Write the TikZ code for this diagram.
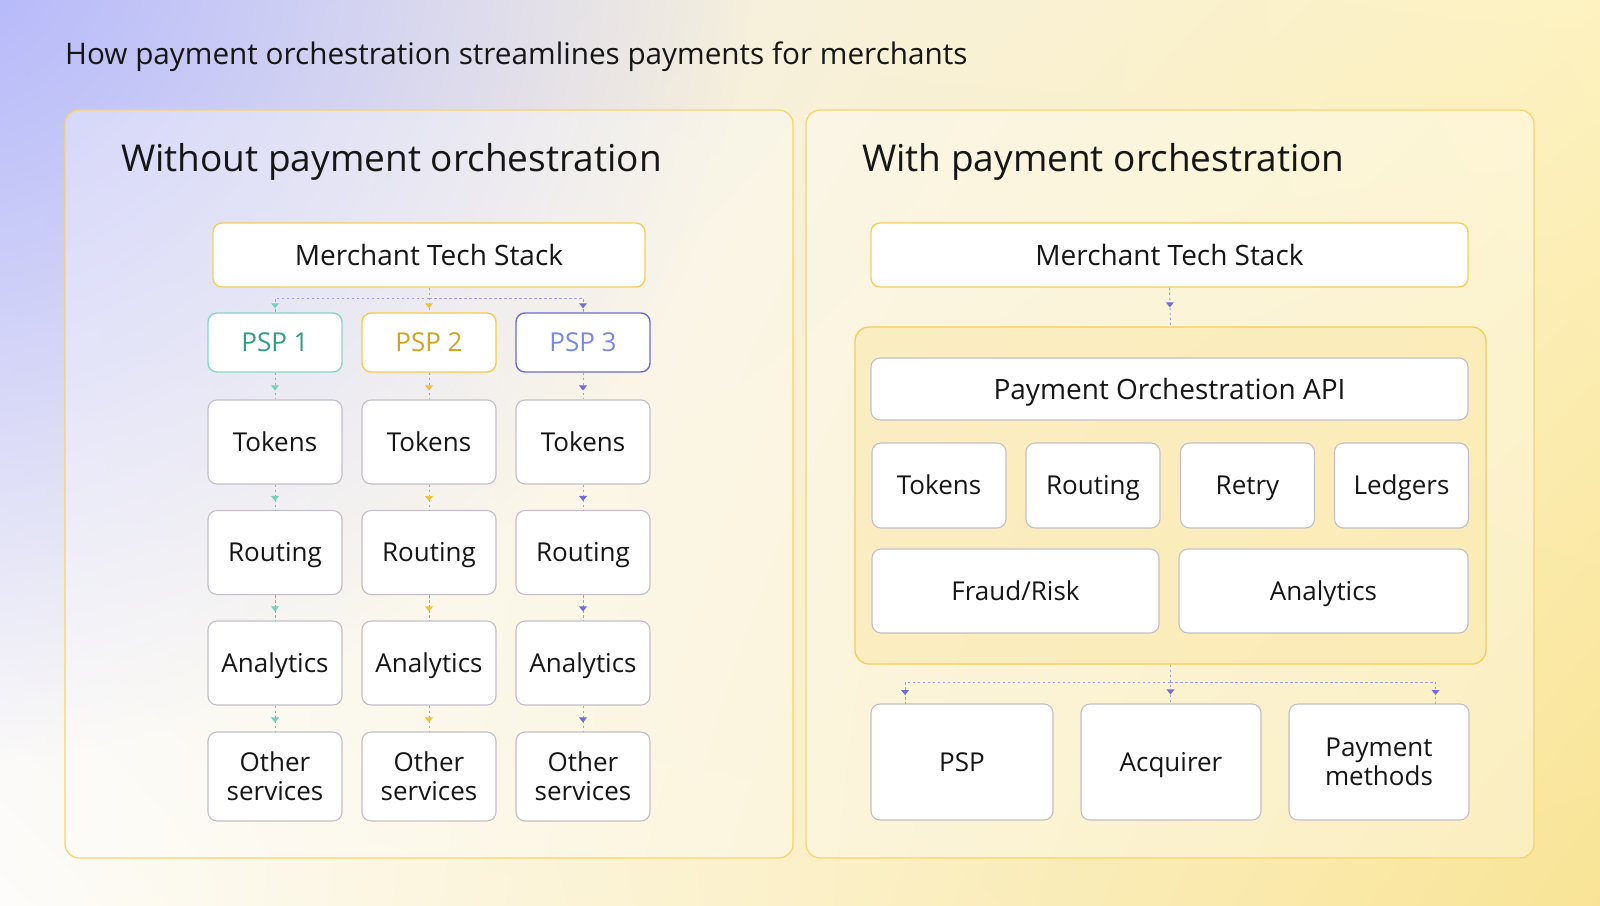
\documentclass[tikz,border=0pt]{standalone}
\usepackage{fontspec}
\setmainfont{Open Sans}
\usetikzlibrary{positioning, fadings, shadings, decorations.markings, calc}

\definecolor{ink}{HTML}{161616}
\definecolor{lavbg}{HTML}{B1B5FA}
\definecolor{bgTL}{HTML}{F1EFF5}
\definecolor{bgBL}{HTML}{FDFCFA}
\definecolor{bgTR}{HTML}{FDF2C0}
\definecolor{bgBR}{HTML}{F9E496}
\definecolor{boxline}{HTML}{C4BFC7}
\definecolor{mtsline}{HTML}{F5CF5A}
\definecolor{panelline}{HTML}{F6D46E}
\definecolor{hubline}{HTML}{F6CD55}
\definecolor{hubfill}{HTML}{FBE7A6}
\definecolor{dashc}{HTML}{A29EE6}
\definecolor{tealtip}{HTML}{6FD2B9}
\definecolor{goldtip}{HTML}{F5C22D}
\definecolor{purptip}{HTML}{6F6BE0}
\definecolor{pspAtext}{HTML}{2F9F86}
\definecolor{pspAline}{HTML}{86D8C5}
\definecolor{pspBtext}{HTML}{D5A31C}
\definecolor{pspBline}{HTML}{F7CB4A}
\definecolor{pspCtext}{HTML}{7D87EA}
\definecolor{pspCline}{HTML}{6C6AD6}

\newcommand{\lblfont}{\fontsize{26}{29}\selectfont}
\newcommand{\mtsfont}{\fontsize{28}{32}\selectfont}
\newcommand{\pnlfont}{\fontsize{37}{42}\selectfont}
\newcommand{\ttlfont}{\fontsize{29.7}{34}\selectfont}

\tikzfading[name=lavfade, inner color=transparent!0, outer color=transparent!100]

\tikzset{
  panel/.style={draw=panelline, line width=1.3pt, rounded corners=14pt, fill=white, fill opacity=0.35},
  hub/.style={draw=hubline, line width=1.3pt, rounded corners=14pt, fill=hubfill, fill opacity=0.5, minimum width=631pt, minimum height=337pt, inner sep=0pt},
  box/.style={draw=boxline, fill=white, line width=1.1pt, rounded corners=9pt, minimum width=134pt, minimum height=84pt, inner sep=0pt, align=center, font=\lblfont, text=ink, text height=18.5pt, text depth=0pt},
  twoline/.style={text height={}, text depth={}},
  mts/.style={box, draw=mtsline, line width=1.4pt, minimum width=432pt, minimum height=64pt, font=\mtsfont, text height=20pt},
  psp/.style={box, line width=1.4pt, minimum height=59pt},
  link/.style 2 args={draw=dashc, line width=0.9pt, dash pattern=on 2.5pt off 2.5pt,
    postaction={decorate, decoration={markings, mark=at position -#2 with {\fill[#1] (0pt,0pt) -- (-5pt,4pt) -- (-5pt,-4pt) -- cycle;}}}},
  line/.style={draw=dashc, line width=0.9pt, dash pattern=on 2.5pt off 2.5pt}
}

\begin{document}
\begin{tikzpicture}[x=1pt, y=-1pt]
    % Draw the background
    \useasboundingbox (0,0) rectangle (1600,905);
    \shade[upper left=bgTL, lower left=bgBL, upper right=bgTR, lower right=bgBR] (0,0) rectangle (1600,905);
    \begin{scope}
        \clip (0,0) rectangle (1600,905);
        \fill[lavbg, path fading=lavfade] (-60,-60) circle[radius=820];
    \end{scope}

    % Draw title and panels
    \node[anchor=west, font=\ttlfont, text=ink, inner sep=0pt] (title) at (65,57) {How payment orchestration streamlines payments for merchants};
    \draw[panel] (65,110) rectangle (793,858);
    \draw[panel] (806,110) rectangle (1534,858);
    \node[anchor=west, font=\pnlfont, text=ink, inner sep=0pt] (headL) at (121,162) {Without payment orchestration};
    \node[anchor=west, font=\pnlfont, text=ink, inner sep=0pt] (headR) at (862,162) {With payment orchestration};

    % Draw stages without orchestration
    \node[mts] (mtsL) at (429,255) {Merchant Tech Stack};

    \node[psp, draw=pspAline, text=pspAtext] (psp1) at (275,342.5) {PSP 1};
    \node[psp, draw=pspBline, text=pspBtext] (psp2) at (429,342.5) {PSP 2};
    \node[psp, draw=pspCline, text=pspCtext] (psp3) at (583,342.5) {PSP 3};

    \node[box] (tok1) at (275,442) {Tokens};
    \node[box] (tok2) at (429,442) {Tokens};
    \node[box] (tok3) at (583,442) {Tokens};

    \node[box] (rout1) at (275,552.5) {Routing};
    \node[box] (rout2) at (429,552.5) {Routing};
    \node[box] (rout3) at (583,552.5) {Routing};

    \node[box] (ana1) at (275,663) {Analytics};
    \node[box] (ana2) at (429,663) {Analytics};
    \node[box] (ana3) at (583,663) {Analytics};

    \node[box, twoline, minimum height=89pt] (oth1) at (275,776.5) {Other\\services};
    \node[box, twoline, minimum height=89pt] (oth2) at (429,776.5) {Other\\services};
    \node[box, twoline, minimum height=89pt] (oth3) at (583,776.5) {Other\\services};

    % Draw arrows without orchestration
    \coordinate (forkL) at (429,298);
    \draw[link={goldtip}{4pt}] (mtsL.south) -- (psp2.north);
    \draw[link={tealtip}{4pt}] (forkL) -| (psp1.north);
    \draw[link={purptip}{4pt}] (forkL) -| (psp3.north);

    \draw[link={tealtip}{9pt}] (psp1) -- (tok1);
    \draw[link={goldtip}{9pt}] (psp2) -- (tok2);
    \draw[link={purptip}{9pt}] (psp3) -- (tok3);
    \draw[link={tealtip}{9pt}] (tok1) -- (rout1);
    \draw[link={goldtip}{9pt}] (tok2) -- (rout2);
    \draw[link={purptip}{9pt}] (tok3) -- (rout3);
    \draw[link={tealtip}{9pt}] (rout1) -- (ana1);
    \draw[link={goldtip}{9pt}] (rout2) -- (ana2);
    \draw[link={purptip}{9pt}] (rout3) -- (ana3);
    \draw[link={tealtip}{9pt}] (ana1) -- (oth1);
    \draw[link={goldtip}{9pt}] (ana2) -- (oth2);
    \draw[link={purptip}{9pt}] (ana3) -- (oth3);

    % Draw stages with orchestration
    \node[mts, minimum width=597pt] (mtsR) at (1169.5,255) {Merchant Tech Stack};
    \node[hub] (hub) at (1170.5,495.5) {};
    \node[mts, draw=boxline, line width=1.1pt, minimum width=597pt, minimum height=62pt] (api) at (1169.5,389) {Payment Orchestration API};

    \node[box, minimum height=85pt] (tokR) at (939,485.5) {Tokens};
    \node[box, minimum height=85pt] (routR) at (1093,485.5) {Routing};
    \node[box, minimum height=85pt] (retry) at (1247.5,485.5) {Retry};
    \node[box, minimum height=85pt] (ledg) at (1401.5,485.5) {Ledgers};

    \node[box, minimum width=287pt] (fraud) at (1015.5,591) {Fraud/Risk};
    \node[box, minimum width=289pt] (anaR) at (1323.5,591) {Analytics};

    \node[box, minimum width=182pt, minimum height=116pt] (pspR) at (962,762) {PSP};
    \node[box, minimum width=180pt, minimum height=116pt] (acq) at (1171,762) {Acquirer};
    \node[box, twoline, minimum width=180pt, minimum height=116pt] (pm) at (1379,762) {Payment\\methods};

    % Draw arrows with orchestration
    \draw[link={purptip}{19pt}] (mtsR.south) -- (hub.north);
    \coordinate (forkR) at (1170,682);
    \coordinate (inPSP) at (905,704);
    \coordinate (inPM) at (1435.5,704);
    \draw[link={purptip}{9pt}] (hub.south) -- (hub.south |- acq.north);
    \draw[link={purptip}{9pt}] (forkR) -| (inPSP);
    \draw[link={purptip}{9pt}] (forkR) -| (inPM);
\end{tikzpicture}
\end{document}
